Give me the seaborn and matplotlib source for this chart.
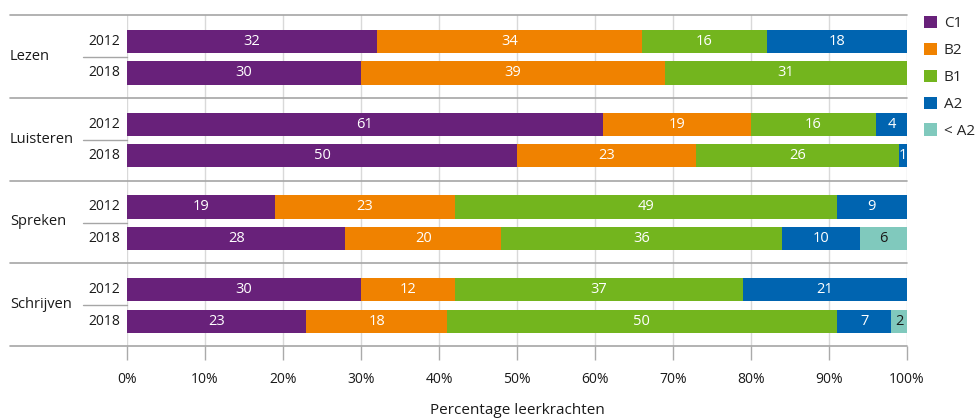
import numpy as np
import pandas as pd
import matplotlib
matplotlib.use("Agg")
import matplotlib.pyplot as plt
import seaborn as sns
from matplotlib.patches import Patch

skills = ["Lezen", "Luisteren", "Spreken", "Schrijven"]
years = ["2012", "2018"]
levels = ["C1", "B2", "B1", "A2", "< A2"]
legend_labels = ["C1", "B2", "B1", "A2", "< A2"]
colors = ["#68217a", "#f08200", "#73b51e", "#0064b0", "#80c9bd"]

C1 = [32, 30, 61, 50, 19, 28, 30, 23]
B2 = [34, 39, 19, 23, 23, 20, 12, 18]
B1 = [16, 31, 16, 26, 49, 36, 37, 50]
A2 = [18, 0, 4, 1, 9, 10, 21, 7]
LT_A2 = [0, 0, 0, 0, 0, 6, 0, 2]
xticks = list(range(0, 101, 10))

sns.set_theme(style="white")
plt.rcParams["font.family"] = ["Open Sans", "DejaVu Sans"]

rows = []
for gi, sk in enumerate(skills):
    for yi, yr in enumerate(years):
        rows.append((sk, yr, gi + (0.32 if yi == 0 else 0.70)))
df = pd.DataFrame(rows, columns=["skill", "year", "pos"])
vals = np.array([C1, B2, B1, A2, LT_A2], dtype=float)
cum = np.cumsum(vals, axis=0)
for i, lv in enumerate(levels):
    df[lv] = vals[i]
    df["cum_" + lv] = cum[i]

fig = plt.figure(figsize=(9.76, 4.18), dpi=100)
ax = fig.add_axes([127 / 976, 1 - 346 / 418, 780 / 976, 331 / 418])

# vertical gridlines
for t in xticks:
    ax.axvline(t, color="#d9d9d9", lw=1, zorder=0)

for i in reversed(range(len(levels))):
    sns.barplot(data=df, x="cum_" + levels[i], y="pos", orient="y", native_scale=True,
                color=colors[i], width=0.74, saturation=1, ax=ax, zorder=2,
                linewidth=0, errorbar=None)

# value labels
for r in range(len(df)):
    for i in range(len(levels)):
        v = vals[i, r]
        if v <= 0:
            continue
        xc = cum[i, r] - v / 2
        col = "#1a1a1a" if i == 4 else "white"
        ax.text(xc, df["pos"][r], f"{int(v)}", ha="center", va="center",
                color=col, fontsize=10.5, zorder=5)

ax.set_xlim(0, 100)
ax.set_ylim(4, 0)
ax.set_ylabel("")
ax.set_yticks([])
for s in ax.spines.values():
    s.set_visible(False)

ax.set_xticks(xticks)
ax.set_xticklabels([f"{t}%" for t in xticks], fontsize=10, color="#1a1a1a")
ax.tick_params(axis="x", length=10, width=1, color="#aaaaaa", pad=9, bottom=True)
ax.set_xlabel("Percentage leerkrachten", fontsize=11, color="#1a1a1a", labelpad=11)

trans = ax.get_yaxis_transform()
for g in range(5):
    ax.plot([-0.15, 1.0], [g, g], transform=trans, color="#a6a6a6", lw=1.2,
            clip_on=False, zorder=3)
for gi, sk in enumerate(skills):
    ax.plot([-0.056, 0.0], [gi + 0.51, gi + 0.51], transform=trans, color="#a6a6a6",
            lw=1.0, clip_on=False, zorder=3)
    ax.text(-0.150, gi + 0.50, sk, transform=trans, ha="left", va="center",
            fontsize=10.5, color="#1a1a1a")
    ax.text(-0.009, gi + 0.32, years[0], transform=trans, ha="right", va="center",
            fontsize=10, color="#1a1a1a")
    ax.text(-0.009, gi + 0.70, years[1], transform=trans, ha="right", va="center",
            fontsize=10, color="#1a1a1a")

handles = [Patch(facecolor=c, edgecolor="none") for c in colors]
fig.legend(handles, legend_labels, loc="upper left", bbox_to_anchor=(918 / 976, 1 - 10 / 418),
           frameon=False, fontsize=11, handlelength=0.85, handleheight=0.85,
           handletextpad=0.45, labelspacing=0.75, borderaxespad=0)

fig.savefig("out.png", dpi=100)
